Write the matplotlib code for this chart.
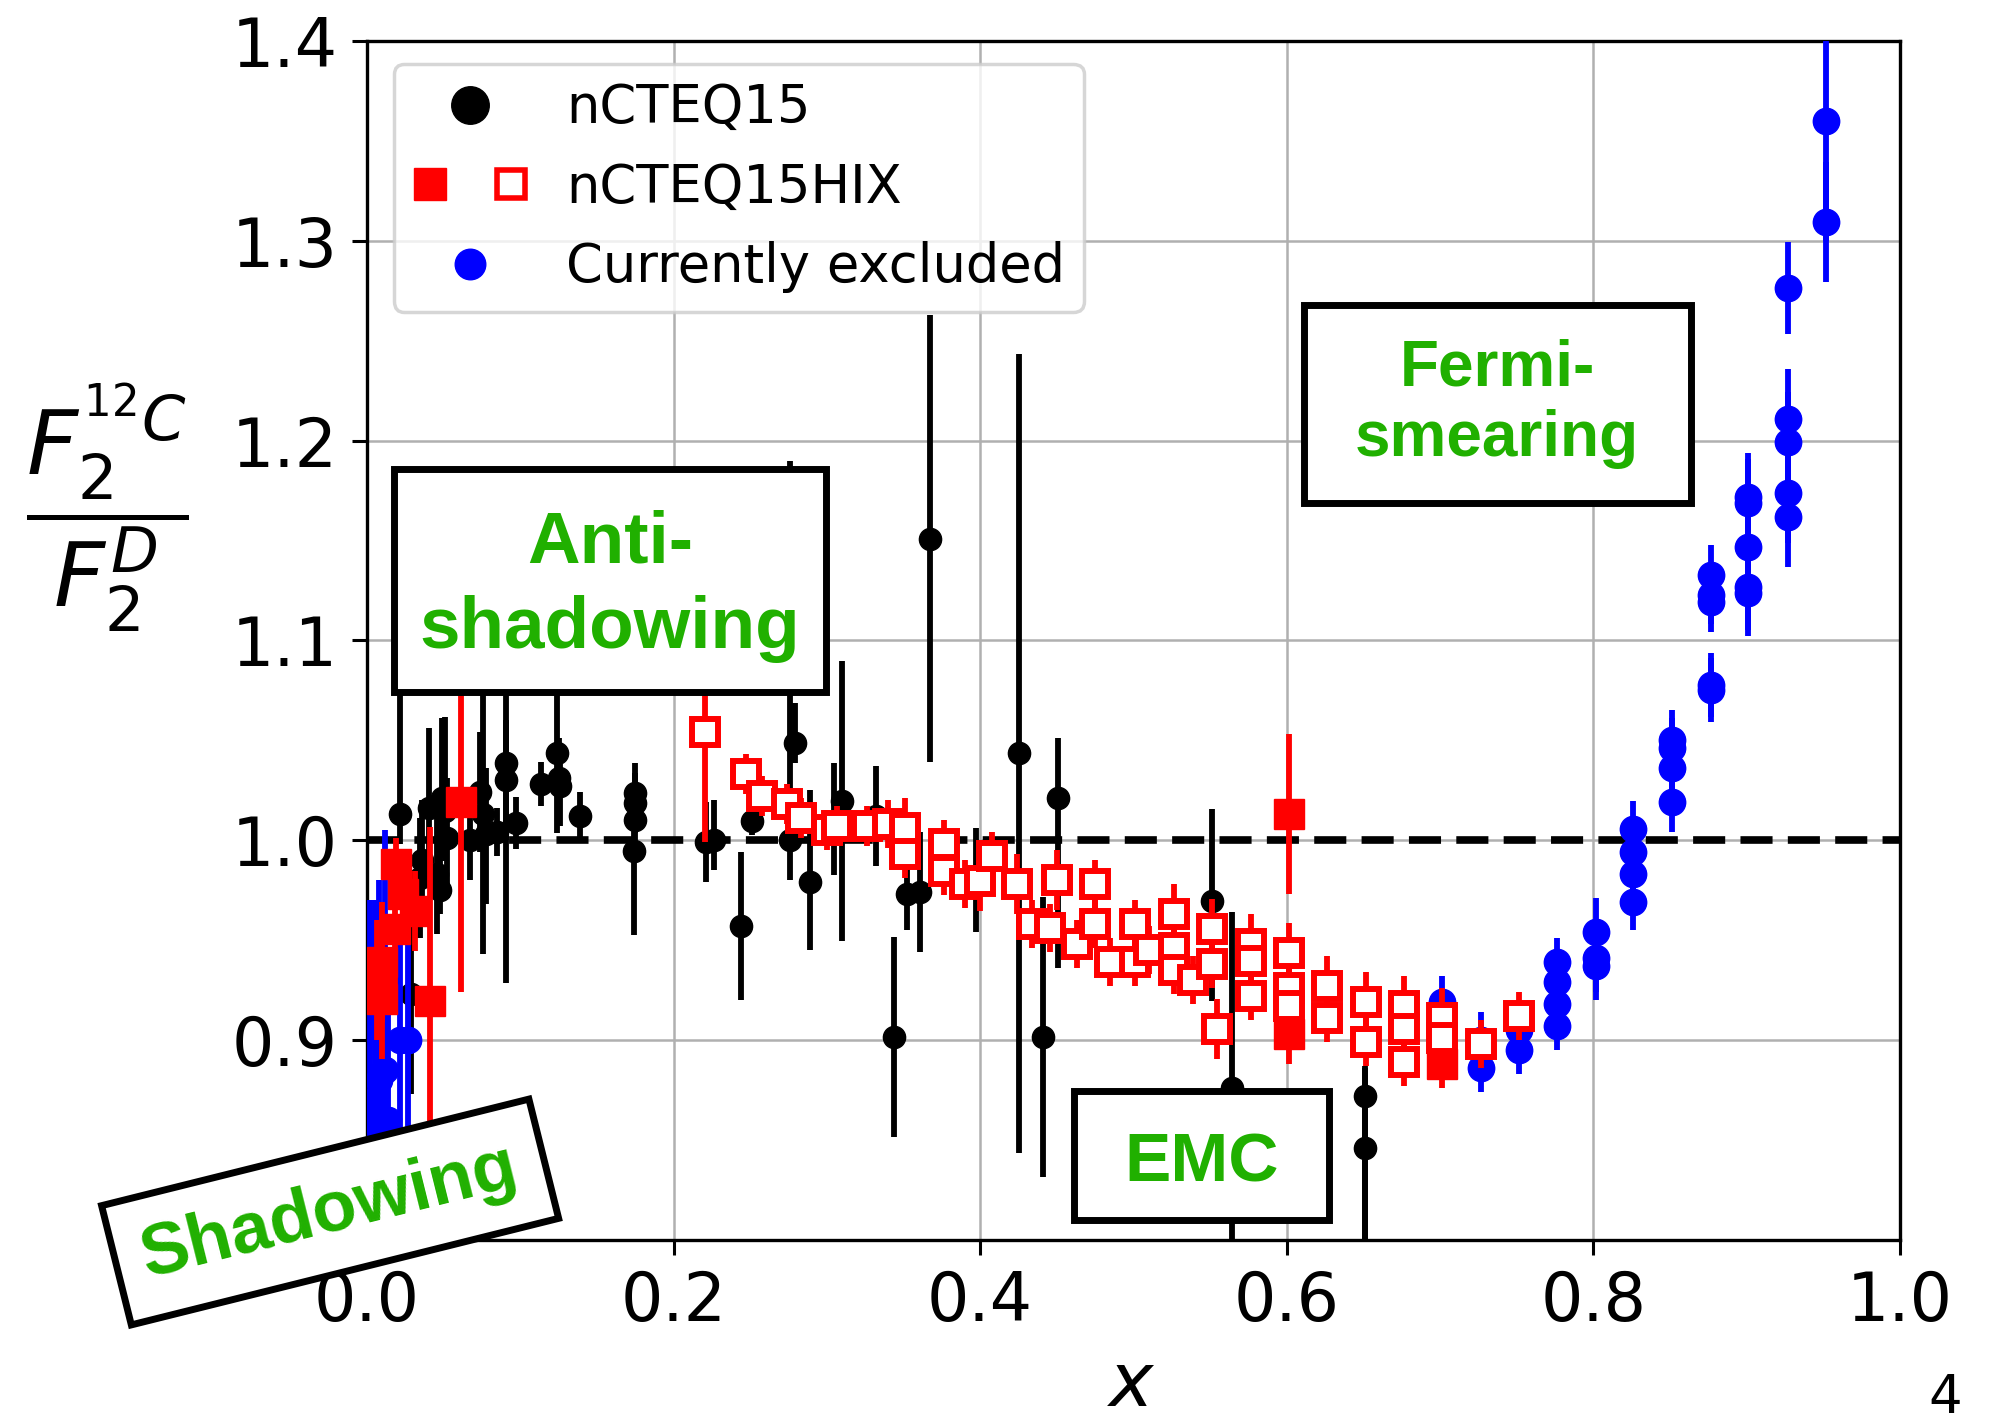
import numpy as np
import matplotlib
matplotlib.use("Agg")
import matplotlib.pyplot as plt
from matplotlib.lines import Line2D
from matplotlib.patches import Rectangle
from matplotlib.legend_handler import HandlerTuple

# nCTEQ15 (schwarz): x, y, Fehler unten, Fehler oben
blk_x = [0.0215, 0.029, 0.0346, 0.0357, 0.0405, 0.0455, 0.0476, 0.049, 0.051, 0.052,
         0.067, 0.074, 0.0757, 0.078, 0.085, 0.0907, 0.0907, 0.097, 0.1135, 0.124,
         0.125, 0.126, 0.139, 0.1747, 0.1747, 0.1747, 0.174, 0.2214, 0.2266, 0.244,
         0.251, 0.276, 0.279, 0.289, 0.305, 0.310, 0.332, 0.3437, 0.352, 0.361,
         0.367, 0.3976, 0.4253, 0.441, 0.451, 0.551, 0.564, 0.651, 0.651]
blk_y = [1.013, 0.923, 0.981, 0.990, 1.016, 0.983, 0.975, 1.021, 1.0145, 1.001,
         1.000, 1.024, 1.013, 1.003, 1.004, 1.0385, 1.030, 1.0086, 1.028, 1.0435,
         1.031, 1.027, 1.012, 1.0236, 1.0186, 1.0103, 0.9945, 0.999, 1.000, 0.957,
         1.0095, 1.000, 1.0485, 0.979, 1.0045, 1.0195, 1.012, 0.9014, 0.973, 0.974,
         1.151, 0.980, 1.0435, 0.9014, 1.021, 0.9696, 0.876, 0.872, 0.846]
blk_lo = [0.015, 0.05, 0.03, 0.03, 0.03, 0.03, 0.012, 0.03, 0.025, 0.03,
          0.02, 0.03, 0.07, 0.035, 0.012, 0.11, 0.03, 0.013, 0.011, 0.04,
          0.02, 0.02, 0.012, 0.015, 0.015, 0.015, 0.042, 0.02, 0.015, 0.037,
          0.007, 0.02, 0.01, 0.034, 0.022, 0.07, 0.025, 0.05, 0.018, 0.03,
          0.112, 0.026, 0.2, 0.07, 0.085, 0.05, 0.09, 0.08, 0.06]
blk_hi = [0.10, 0.06, 0.03, 0.03, 0.04, 0.03, 0.03, 0.04, 0.047, 0.03,
          0.02, 0.03, 0.07, 0.033, 0.012, 0.11, 0.03, 0.013, 0.011, 0.03,
          0.02, 0.02, 0.012, 0.015, 0.015, 0.015, 0.01, 0.02, 0.02, 0.037,
          0.007, 0.19, 0.02, 0.046, 0.034, 0.07, 0.025, 0.05, 0.015, 0.03,
          0.112, 0.026, 0.2, 0.07, 0.03, 0.046, 0.088, 0.015, 0.04]

# Currently excluded (blau)
blu_x = [0.002, 0.005, 0.008, 0.0117, 0.014, 0.0215, 0.027,
         0.7015, 0.7015, 0.7265, 0.7265, 0.7515, 0.7515,
         0.7766, 0.7766, 0.7766, 0.7766, 0.8016, 0.8016, 0.8016,
         0.826, 0.826, 0.826, 0.826, 0.8516, 0.8516, 0.8516, 0.8516,
         0.877, 0.877, 0.877, 0.877, 0.877,
         0.901, 0.901, 0.901, 0.901, 0.901,
         0.927, 0.927, 0.927, 0.927, 0.927, 0.9517, 0.9517]
blu_y = [0.86, 0.87, 0.88, 0.885, 0.86, 0.90, 0.90,
         0.919, 0.895, 0.900, 0.886, 0.905, 0.895,
         0.939, 0.929, 0.918, 0.907, 0.954, 0.941, 0.937,
         1.0056, 0.994, 0.983, 0.969, 1.050, 1.046, 1.036, 1.019,
         1.133, 1.123, 1.119, 1.0775, 1.075,
         1.172, 1.169, 1.147, 1.127, 1.124,
         1.2766, 1.211, 1.1995, 1.174, 1.162, 1.360, 1.3095]
blu_err = [0.11, 0.10, 0.10, 0.12, 0.08, 0.06, 0.05,
           0.013, 0.012, 0.014, 0.012, 0.012, 0.012,
           0.012, 0.012, 0.012, 0.012, 0.017, 0.017, 0.017,
           0.014, 0.014, 0.014, 0.014, 0.015, 0.015, 0.015, 0.015,
           0.015, 0.015, 0.015, 0.016, 0.016,
           0.022, 0.022, 0.022, 0.022, 0.022,
           0.023, 0.025, 0.025, 0.025, 0.025, 0.06, 0.03]

# nCTEQ15HIX gefuellt
rf_x = [0.0067, 0.0096, 0.0096, 0.0183, 0.0191, 0.0237, 0.0313, 0.0411, 0.0611,
        0.6014, 0.6014, 0.7015]
rf_y = [0.930, 0.939, 0.9205, 0.9555, 0.988, 0.973, 0.9646, 0.9197, 1.019,
        1.013, 0.903, 0.888]
rf_err = [0.03, 0.03, 0.03, 0.03, 0.013, 0.02, 0.02, 0.087, 0.095,
          0.04, 0.015, 0.012]

# nCTEQ15HIX offen
ro_x = [0.2206, 0.247, 0.258, 0.274, 0.283, 0.300, 0.3066, 0.326, 0.340, 0.3512,
        0.3512, 0.3762, 0.3762, 0.390, 0.4001, 0.4077, 0.424, 0.4339, 0.4458, 0.450,
        0.4632, 0.4752, 0.4752, 0.485, 0.5013, 0.5013, 0.510, 0.5263, 0.5263, 0.5263,
        0.539, 0.5513, 0.5513, 0.5546, 0.5764, 0.5764, 0.5764, 0.6014, 0.6014, 0.6014,
        0.6264, 0.6264, 0.6514, 0.6514, 0.6764, 0.6764, 0.6764, 0.7015, 0.7015, 0.7265,
        0.7515]
ro_y = [1.054, 1.033, 1.022, 1.018, 1.011, 1.005, 1.007, 1.007, 1.008, 1.006,
        0.993, 0.998, 0.9845, 0.978, 0.9796, 0.992, 0.978, 0.958, 0.956, 0.980,
        0.948, 0.978, 0.958, 0.939, 0.958, 0.939, 0.945, 0.963, 0.946, 0.935,
        0.930, 0.9555, 0.938, 0.9056, 0.948, 0.9396, 0.922, 0.9438, 0.926, 0.917,
        0.927, 0.911, 0.919, 0.899, 0.917, 0.9056, 0.889, 0.911, 0.901, 0.898,
        0.912]
ro_err = [0.055, 0.01, 0.01, 0.01, 0.01, 0.01, 0.01, 0.01, 0.012, 0.015,
          0.012, 0.012, 0.012, 0.012, 0.015, 0.012, 0.015, 0.012, 0.012, 0.015,
          0.012, 0.012, 0.012, 0.012, 0.012, 0.012, 0.012, 0.015, 0.012, 0.012,
          0.012, 0.015, 0.012, 0.015, 0.015, 0.012, 0.012, 0.015, 0.012, 0.012,
          0.015, 0.012, 0.015, 0.012, 0.015, 0.012, 0.012, 0.015, 0.012, 0.012,
          0.012]

green = '#20b000'

fig = plt.figure(figsize=(19.93, 14.22), dpi=100)
ax = fig.add_axes([0.1841, 0.1280, 0.7692, 0.8432])

ax.errorbar(blk_x, blk_y, yerr=[blk_lo, blk_hi], fmt='o', color='black',
            ms=16, elinewidth=4.2, capsize=0, zorder=2)
ax.axhline(1.0, color='black', lw=5.5, linestyle=(0, (4.2, 2.0)), zorder=2.5)
ax.errorbar(blu_x, blu_y, yerr=blu_err, fmt='o', color='blue',
            ms=19, elinewidth=4.2, capsize=0, zorder=3)
ax.errorbar(rf_x, rf_y, yerr=rf_err, fmt='s', color='red',
            ms=21, elinewidth=4.2, capsize=0, zorder=4)
ax.errorbar(ro_x, ro_y, yerr=ro_err, fmt='s', color='red', mfc='white',
            mec='red', mew=4.3, ms=18.5, elinewidth=4.2, capsize=0, zorder=5)

ax.set_xlim(0.0, 1.0)
ax.set_ylim(0.8, 1.4)
ax.set_xticks([0.0, 0.2, 0.4, 0.6, 0.8, 1.0])
ax.set_yticks([0.8, 0.9, 1.0, 1.1, 1.2, 1.3, 1.4])
ax.tick_params(labelsize=48, length=11, width=2.2, pad=10)
for s in ax.spines.values():
    s.set_linewidth(2.4)
ax.grid(True, color='#b0b0b0', lw=1.8)
ax.set_axisbelow(True)

# Kaesten
def kasten(x0, x1, y0, y1, txt, fs, ls=1.2, dy=0.0):
    ax.add_patch(Rectangle((x0, y0), x1 - x0, y1 - y0, fc='white', ec='black',
                           lw=5, zorder=10, clip_on=False))
    ax.text((x0 + x1) / 2, (y0 + y1) / 2 + dy, txt, ha='center', va='center',
            fontsize=fs, fontweight='bold', family='Liberation Sans',
            color=green, linespacing=ls, zorder=11)

kasten(0.0176, 0.2996, 1.0743, 1.186, 'Anti-\nshadowing', 52.5, 1.32, -0.003)
kasten(0.611, 0.8636, 1.169, 1.268, 'Fermi-\nsmearing', 46, 1.22)
kasten(0.4615, 0.6273, 0.8101, 0.8748, 'EMC', 50, dy=-0.004)

ax.text(-0.024, 0.814, 'Shadowing', rotation=14, rotation_mode='anchor',
        ha='center', va='center', fontsize=52, fontweight='bold',
        family='Liberation Sans', color=green, zorder=12, clip_on=False,
        bbox=dict(boxstyle='square,pad=0.38', fc='white', ec='black', lw=5))

# Legende
h_blk = Line2D([], [], ls='none', marker='o', color='black', ms=27)
h_rf = Line2D([], [], ls='none', marker='s', color='red', ms=23)
h_ro = Line2D([], [], ls='none', marker='s', mfc='white', mec='red', mew=4, ms=20)
h_blu = Line2D([], [], ls='none', marker='o', color='blue', ms=22)
leg = ax.legend([h_blk, (h_rf, h_ro), h_blu],
                ['nCTEQ15', 'nCTEQ15HIX', 'Currently excluded'],
                handler_map={tuple: HandlerTuple(ndivide=None, pad=0.9)},
                loc='upper left', bbox_to_anchor=(0.0176, 0.981), borderaxespad=0,
                fontsize=38, labelspacing=0.52, borderpad=0.35, handlelength=2.2,
                handletextpad=0.72, framealpha=0.8, edgecolor='0.8')
leg.get_frame().set_linewidth(2.5)
leg.set_zorder(20)

fig.text(107 / 1993, 1 - 508 / 1422, r'$\dfrac{F_2^{^{12}C}}{F_2^D}$',
         fontsize=64, ha='center', va='center')
fig.text(1131 / 1993, 1 - 1385 / 1422, r'$x$', fontsize=54, ha='center', va='center')
fig.text(1945 / 1993, 1 - 1398 / 1422, '4', fontsize=38, ha='center', va='center')

fig.savefig('out.png', dpi=100)
